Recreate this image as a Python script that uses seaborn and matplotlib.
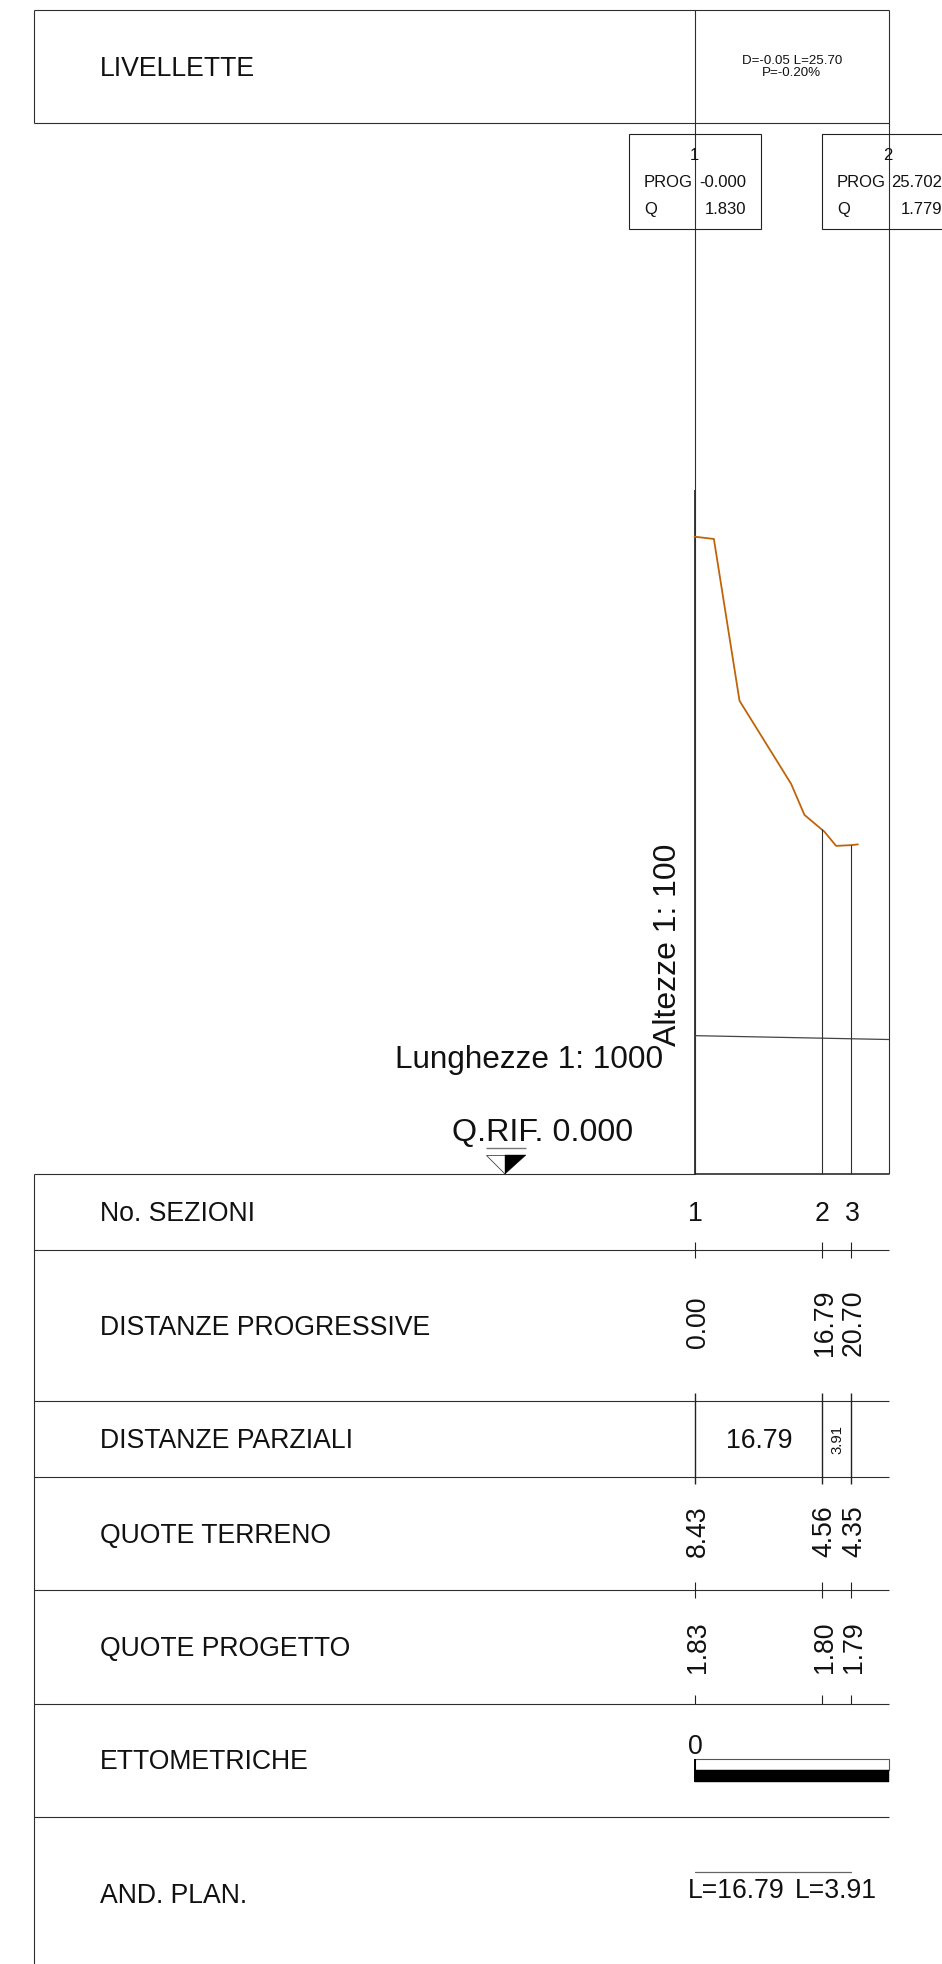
import matplotlib
matplotlib.use("Agg")
import matplotlib.pyplot as plt
from matplotlib.patches import Polygon, Rectangle
from matplotlib.transforms import blended_transform_factory, offset_copy
import pandas as pd
import seaborn as sns

# ---------- data ----------
row_labels = ["LIVELLETTE", "No. SEZIONI", "DISTANZE PROGRESSIVE", "DISTANZE PARZIALI",
              "QUOTE TERRENO", "QUOTE PROGETTO", "ETTOMETRICHE", "AND. PLAN."]
sections = ["1", "2", "3"]
prog = [0.00, 16.79, 20.70]
dist_prog_labels = ["0.00", "16.79", "20.70"]
quote_terreno = [8.43, 4.56, 4.35]
quote_progetto = [1.83, 1.80, 1.79]
terrain_prog = [0.00, 2.55, 5.94, 12.77, 14.53, 16.79, 17.15, 18.72, 20.70, 21.60]
terrain_q = [8.43, 8.40, 6.26, 5.16, 4.75, 4.56, 4.53, 4.34, 4.35, 4.36]
design_prog = [0.00, 25.70]
design_q = [1.83, 1.779]
partial_values = ["16.79", "3.91"]
plan_labels = ["L=16.79", "L=3.91"]

W, H = 942, 1964
X0, XS = 694.6, 7.56
Y0, YS = 1174.0, 75.6
LINE = "#2e2e2e"
FONT = ["Liberation Sans", "DejaVu Sans"]

sns.set_style("white")
plt.rcParams["font.family"] = FONT
fig = plt.figure(figsize=(W / 100, H / 100), dpi=100, facecolor="white")

# pixel-layout axes for the drawing sheet, data axes for the profile
ax = fig.add_axes([0, 0, 1, 1])
ax.set_xlim(0, W); ax.set_ylim(H, 0); ax.axis("off")
da = fig.add_axes([0, 0, 1, 1], facecolor="none")
da.axis("off")
bt = blended_transform_factory(da.transData, ax.transData)
bt_rot = offset_copy(bt, fig=fig, x=3, y=0, units="dots")
bt_num = offset_copy(bt, fig=fig, x=1, y=0, units="dots")

LW = 0.8
def hl(y, x0, x1, lw=LW, c=LINE):
    ax.plot([x0, x1], [y, y], color=c, lw=lw, solid_capstyle="butt")
def vl(x, y0, y1, lw=LW, c=LINE):
    ax.plot([x, x], [y0, y1], color=c, lw=lw, solid_capstyle="butt")

L, R, C = 34, 889, 694.6
# top band
hl(10, L, R); hl(123, L, R); vl(L, 10, 123)
vl(C, 10, Y0); vl(R, 10, Y0)
vl(C, 490, Y0, lw=1.3)
# table
for y in [1250, 1401.3, 1477, 1590.3, 1703.7, 1816.7]:
    hl(y, L, R)
hl(Y0, L, C)
hl(Y0, C, R, lw=1.1, c="#1a1a1a")
vl(L, Y0, H)

# profile
sns.lineplot(data=pd.DataFrame({"p": terrain_prog, "q": terrain_q}), x="p", y="q", ax=da,
             color="#c0640a", lw=1.3, sort=False, estimator=None, errorbar=None)
sns.lineplot(data=pd.DataFrame({"p": design_prog, "q": design_q}), x="p", y="q", ax=da,
             color="#444444", lw=0.9, sort=False, estimator=None, errorbar=None)
da.vlines(prog[1:], 0, quote_terreno[1:], color=LINE, lw=LW)
da.set_xlabel(""); da.set_ylabel("")

# ticks on table rows
for y0, y1, lw in [(1242, 1258, LW), (1393, 1484, 1.0), (1582, 1598, LW), (1695, 1703.7, LW)]:
    for p in prog:
        da.plot([p, p], [y0, y1], color="#222222", lw=lw, transform=bt, solid_capstyle="butt")

da.set_xlim((0 - X0) / XS, (W - X0) / XS)
da.set_ylim((Y0 - H) / YS, Y0 / YS)

def T(x, y, s, size, ha="center", va="center", rot=0, transform=None, mode="default"):
    ax.text(x, y, s, fontsize=size, ha=ha, va=va, rotation=rot, color="#111111",
            transform=transform or ax.transData, rotation_mode=mode)

# row labels
FS = 19.2
for s, y in zip(row_labels, [69, 1214, 1328, 1441, 1536.5, 1649, 1762, 1896]):
    T(100, y, s, FS, ha="left")

# section / value rows
for s, p, dp, qt, qp in zip(sections, prog, dist_prog_labels, quote_terreno, quote_progetto):
    T(p, 1214, s, FS, transform=bt_num)
    T(p, 1322.5, dp, FS, rot=90, transform=bt_rot)
    T(p, 1531.5, f"{qt:.2f}", FS, rot=90, transform=bt_rot)
    T(p, 1647, f"{qp:.2f}", FS, rot=90, transform=bt_rot)
T((prog[0] + prog[1]) / 2, 1441, partial_values[0], FS, transform=bt_num)
T((prog[1] + prog[2]) / 2, 1439, partial_values[1], 10.7, rot=90, transform=bt_num)

# level summary
T(791.7, 60.5, "D=-0.05 L=25.70", 9.6)
T(791.7, 72.5, "P=-0.20%", 9.6)

# node boxes
for dx, num, pv, qv in [(0, "1", "-0.000", "1.830"), (193, "2", "25.702", "1.779")]:
    ax.add_patch(Rectangle((629.3 + dx, 134.3), 131.4, 94.4, fc="none", ec="#222222", lw=LW, zorder=3))
    xr = 746 + dx + (3 if dx else 0)
    T(695 + dx - 0.5, 155, num, 12)
    T(644 + dx, 182.5, "PROG", 12, ha="left")
    T(644 + dx, 209.5, "Q", 12, ha="left")
    T(xr, 182.5, pv, 12, ha="right")
    T(xr, 209.5, qv, 12, ha="right")

# scales and reference
T(663, 1068, "Lunghezze 1: 1000", 22.7, ha="right", va="baseline")
T(676.5, 1046, "Altezze 1: 100", 23, ha="left", va="baseline", rot=90, mode="anchor")
T(452, 1141, "Q.RIF. 0.000", 23.2, ha="left", va="baseline")
hl(1147.7, 486, 526, lw=1.0, c="#777777")
ax.add_patch(Polygon([[486, 1155], [505, 1155], [505, 1174]], closed=True, fc="white", ec="#444444", lw=0.6))
ax.add_patch(Polygon([[505, 1155], [526, 1155], [505, 1174]], closed=True, fc="black", ec="black", lw=0.3))

# ettometriche
ax.add_patch(Rectangle((C, 1758.7), R - C, 11.3, fc="white", ec="#555555", lw=0.8))
ax.add_patch(Rectangle((C, 1770), R - C, 11.7, fc="black", ec="black", lw=0.3))
vl(C, 1758.7, 1781.7, lw=1.4, c="black")
T(695, 1754, "0", FS, va="baseline")

# plan
da.plot([prog[0], prog[2]], [1872, 1872], color="#666666", lw=0.9, transform=bt)
T(736.5, 1898, plan_labels[0], FS, va="baseline")
T(835.5, 1898, plan_labels[1], FS, va="baseline")

fig.savefig("out.png", dpi=100)
